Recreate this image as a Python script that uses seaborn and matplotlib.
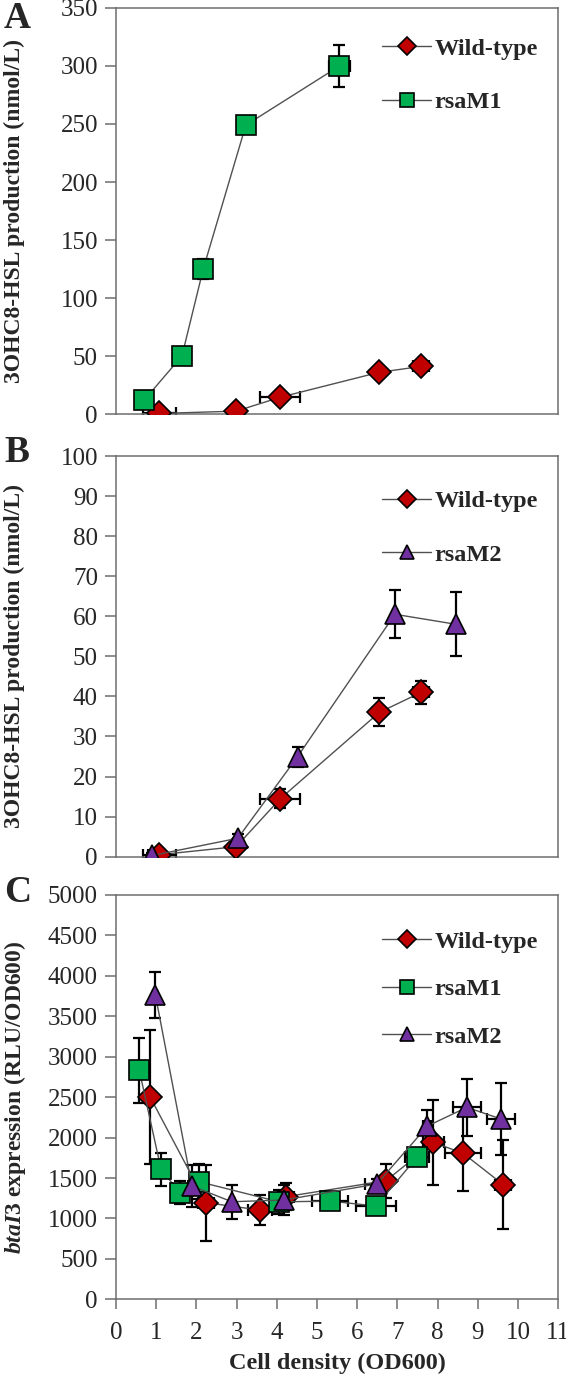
import numpy as np
import pandas as pd
import seaborn as sns
import matplotlib.pyplot as plt

# ---- data ----
# panel A / B wild-type (same samples in both)
wt_ab_x = [1.08, 2.99, 4.09, 6.55, 7.59]
wt_ab_y = [0.5, 2.5, 14.5, 36.0, 41.0]
wt_ab_xerr = [0.40, 0.05, 0.50, 0.15, 0.20]
wt_ab_yerr = [0.5, 1.0, 2.3, 3.5, 2.9]

m1_a_x = [0.70, 1.64, 2.17, 3.23, 5.56]
m1_a_y = [12, 50, 125, 249, 300]
m1_a_xerr = [0.10, 0.05, 0.05, 0.10, 0.25]
m1_a_yerr = [3, 3, 9, 7, 18]

m2_b_x = [0.90, 3.03, 4.52, 6.94, 8.46]
m2_b_y = [0.3, 4.6, 25.0, 60.5, 58.0]
m2_b_xerr = [0.10, 0.05, 0.05, 0.05, 0.05]
m2_b_yerr = [0.5, 1.0, 2.5, 6.0, 8.0]

# panel C
wt_c_x = [0.85, 2.24, 3.59, 4.23, 6.72, 7.90, 8.64, 9.63]
wt_c_y = [2500, 1195, 1104, 1270, 1467, 1940, 1805, 1420]
wt_c_xerr = [0.05, 0.20, 0.30, 0.20, 0.10, 0.25, 0.45, 0.20]
wt_c_yerr = [830, 470, 190, 170, 210, 530, 470, 550]

m1_c_x = [0.58, 1.12, 1.59, 2.06, 4.06, 5.32, 6.47, 7.50]
m1_c_y = [2830, 1607, 1318, 1455, 1205, 1215, 1154, 1764]
m1_c_xerr = [0.05, 0.05, 0.05, 0.05, 0.10, 0.45, 0.50, 0.30]
m1_c_yerr = [400, 200, 140, 220, 150, 60, 60, 80]

m2_c_x = [0.98, 1.89, 2.88, 4.17, 6.49, 7.75, 8.73, 9.58]
m2_c_y = [3763, 1401, 1207, 1228, 1426, 2143, 2374, 2230]
m2_c_xerr = [0.05, 0.10, 0.05, 0.10, 0.30, 0.10, 0.35, 0.35]
m2_c_yerr = [280, 260, 210, 190, 60, 200, 350, 440]

sns.set_style("white")
plt.rcParams['font.family'] = ['Liberation Serif', 'DejaVu Serif']
plt.rcParams['mathtext.fontset'] = 'custom'
plt.rcParams['mathtext.it'] = 'Liberation Serif:italic:bold'
plt.rcParams['mathtext.rm'] = 'Liberation Serif:bold'

styles = {
    'Wild-type': dict(marker='D', mfc='#C00000', ms=12.5),
    'rsaM1': dict(marker='s', mfc='#00B050', ms=15),
    'rsaM2': dict(marker='^', mfc='#7030A0', ms=15),
}


def draw_series(ax, name, xs, ys, xerr, yerr):
    df = pd.DataFrame({'x': xs, 'y': ys})
    st = styles[name]
    ax.errorbar(df['x'], df['y'], xerr=xerr, yerr=yerr, fmt='none',
                ecolor='black', elinewidth=1.6, capsize=4, capthick=1.6, zorder=2)
    sns.lineplot(data=df, x='x', y='y', ax=ax, sort=False, estimator=None,
                 color='#505050', linewidth=1.0, marker=st['marker'],
                 markersize=st['ms'], markerfacecolor=st['mfc'],
                 markeredgecolor='black', markeredgewidth=1.2, label=name, zorder=3)


def style_axes(ax, ymax, ystep, show_x, legend_top, spacing):
    ax.set_xlim(0, 11)
    ax.set_ylim(0, ymax)
    ax.set_yticks(np.arange(0, ymax + 1, ystep))
    for sp in ax.spines.values():
        sp.set_color('#6e6e6e')
        sp.set_linewidth(1.1)
    ax.tick_params(axis='y', left=True, direction='out', length=8, width=1.1,
                   color='#6e6e6e', labelsize=18, pad=5)
    if show_x:
        ax.set_xticks(range(0, 12))
        ax.tick_params(axis='x', bottom=True, direction='out', length=7, width=1.1,
                       color='#6e6e6e', labelsize=18, pad=9)
    else:
        ax.set_xticks([])
    ax.set_xlabel('')
    ax.set_ylabel('')
    ax.legend(loc='upper left', bbox_to_anchor=(0.575, legend_top), frameon=False,
              prop={'weight': 'bold', 'size': 17.5}, markerscale=0.7,
              handlelength=2.0, handletextpad=0.15, labelspacing=spacing, borderpad=0)


fig = plt.figure(figsize=(5.66, 13.76), dpi=100)
left, width = 0.205, 0.781
axA = fig.add_axes([left, 0.6991, width, 0.2951])
axB = fig.add_axes([left, 0.3774, width, 0.2912])
axC = fig.add_axes([left, 0.0557, width, 0.2939])

draw_series(axA, 'Wild-type', wt_ab_x, wt_ab_y, wt_ab_xerr, wt_ab_yerr)
draw_series(axA, 'rsaM1', m1_a_x, m1_a_y, m1_a_xerr, m1_a_yerr)
style_axes(axA, 350, 50, False, 0.957, 1.3)

draw_series(axB, 'Wild-type', wt_ab_x, wt_ab_y, wt_ab_xerr, wt_ab_yerr)
draw_series(axB, 'rsaM2', m2_b_x, m2_b_y, m2_b_xerr, m2_b_yerr)
style_axes(axB, 100, 10, False, 0.945, 1.3)

draw_series(axC, 'Wild-type', wt_c_x, wt_c_y, wt_c_xerr, wt_c_yerr)
draw_series(axC, 'rsaM1', m1_c_x, m1_c_y, m1_c_xerr, m1_c_yerr)
draw_series(axC, 'rsaM2', m2_c_x, m2_c_y, m2_c_xerr, m2_c_yerr)
style_axes(axC, 5000, 500, True, 0.942, 1.05)

ylab = '3OHC8-HSL production (nmol/L)'
for ax in (axA, axB):
    ax.set_ylabel(ylab, fontsize=17, fontweight='bold')
    ax.yaxis.set_label_coords(-0.205, 0.5)
axC.set_ylabel(r'$btaI$3 expression (RLU/OD600)', fontsize=17, fontweight='bold')
axC.yaxis.set_label_coords(-0.20, 0.5)
axC.set_xlabel('Cell density (OD600)', fontsize=17.5, fontweight='bold', labelpad=7)

for letter, ypix in (('A', 19), ('B', 453), ('C', 892)):
    fig.text(4 / 566, 1 - ypix / 1376, letter, fontsize=27, fontweight='bold',
             ha='left', va='center')

plt.savefig('out.png', dpi=100)
